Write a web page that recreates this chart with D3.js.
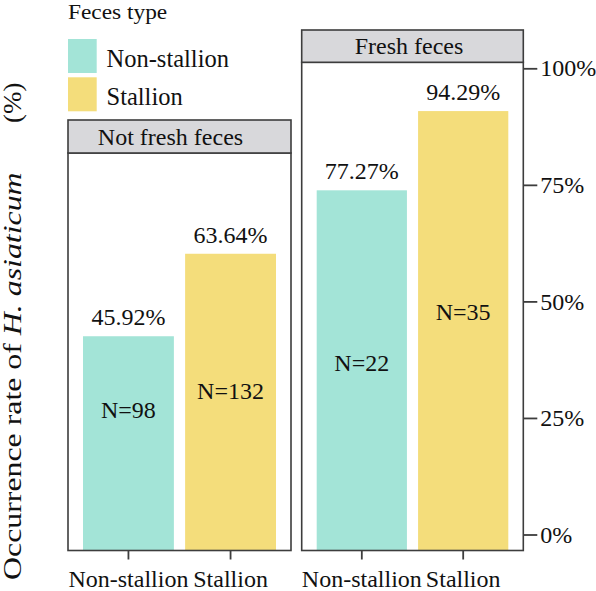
<!DOCTYPE html>
<html>
<head>
<meta charset="utf-8">
<script src="https://cdn.jsdelivr.net/npm/d3@7"></script>
<style>
  html, body { margin: 0; padding: 0; background: #fff; }
  svg text { font-family: 'Liberation Serif', 'Tinos', 'DejaVu Serif', serif !important; fill: #111; }
</style>
</head>
<body>
<svg id="chart" width="596" height="591"></svg>
<script>
// ---- data ----
const panels = ["Not fresh feces", "Fresh feces"];
const categories = ["Non-stallion", "Stallion"];
const notFreshValues = [45.92, 63.64];
const freshValues = [77.27, 94.29];
const notFreshN = [98, 132];
const freshN = [22, 35];
// where the N= labels sit (in % units)
const notFreshNLabelAt = [27, 31];
const freshNLabelAt = [37, 48];
const yTicks = [0, 25, 50, 75, 100];
const legendTitle = "Feces type";

const colors = { "Non-stallion": "#a3e4d7", "Stallion": "#f4dd7b" };
const FONT = "'Liberation Serif', 'Tinos', 'DejaVu Serif', serif";

const svg = d3.select("#chart");

// scales
const yBar = d3.scaleLinear().domain([0, 100]).range([550, 84.5]);
const yAxisScale = d3.scaleLinear().domain([0, 100]).range([534.5, 68.3]);

const panelDefs = [
  { name: panels[0], x0: 68, x1: 291, stripTop: 120, stripBot: 153, values: notFreshValues, ns: notFreshN, nAt: notFreshNLabelAt, textShift: -9 },
  { name: panels[1], x0: 301.7, x1: 523.3, stripTop: 30, stripBot: 62.3, values: freshValues, ns: freshN, nAt: freshNLabelAt, textShift: -3.5 }
];
const bottom = 550.5;

panelDefs.forEach(p => {
  const g = svg.append("g");
  const x = d3.scaleBand().domain(categories).range([p.x0 + 15, p.x1 - 15]).paddingInner(0.11).paddingOuter(0);
  const data = categories.map((c, i) => ({ cat: c, v: p.values[i], n: p.ns[i], at: p.nAt[i] }));

  g.selectAll("rect.bar").data(data).join("rect")
    .attr("class", "bar")
    .attr("x", d => x(d.cat))
    .attr("width", x.bandwidth())
    .attr("y", d => yBar(d.v))
    .attr("height", d => yBar(0) - yBar(d.v))
    .attr("fill", d => colors[d.cat]);

  g.selectAll("text.val").data(data).join("text")
    .attr("class", "val")
    .attr("x", d => x(d.cat) + x.bandwidth() / 2)
    .attr("y", d => yBar(d.v) - 11)
    .attr("text-anchor", "middle")
    .attr("font-size", 24)
    .text(d => d.v.toFixed(2) + "%");

  g.selectAll("text.n").data(data).join("text")
    .attr("class", "n")
    .attr("x", d => x(d.cat) + x.bandwidth() / 2)
    .attr("y", d => yAxisScale(d.at) + 9)
    .attr("text-anchor", "middle")
    .attr("font-size", 24)
    .text(d => "N=" + d.n);

  g.append("rect")
    .attr("x", p.x0).attr("y", p.stripBot)
    .attr("width", p.x1 - p.x0).attr("height", bottom - p.stripBot)
    .attr("fill", "none").attr("stroke", "#3d3d3d").attr("stroke-width", 1.6);

  g.append("rect")
    .attr("x", p.x0).attr("y", p.stripTop)
    .attr("width", p.x1 - p.x0).attr("height", p.stripBot - p.stripTop)
    .attr("fill", "#d8d8db").attr("stroke", "#3d3d3d").attr("stroke-width", 1.6);
  g.append("text")
    .attr("x", (p.x0 + p.x1) / 2 + p.textShift)
    .attr("y", p.stripBot - 8)
    .attr("text-anchor", "middle")
    .attr("font-size", 24)
    .text(p.name);

  const xAxis = d3.axisBottom(x).tickSize(9).tickPadding(10).tickSizeOuter(0);
  const ax = g.append("g").attr("transform", `translate(0,${bottom})`).call(xAxis);
  ax.attr("font-family", FONT);
  ax.select(".domain").remove();
  ax.selectAll(".tick line").attr("stroke", "#3d3d3d").attr("stroke-width", 1.8);
  ax.selectAll(".tick text").attr("font-size", 24).attr("fill", "#111");
});

const yAx = d3.axisRight(yAxisScale).tickValues(yTicks).tickFormat(d => d + "%").tickSize(14).tickPadding(3);
const yg = svg.append("g").attr("transform", "translate(523.3,0)").call(yAx);
yg.attr("font-family", FONT);
yg.select(".domain").remove();
yg.selectAll(".tick line").attr("stroke", "#3d3d3d").attr("stroke-width", 1.8);
yg.selectAll(".tick text").attr("font-size", 24).attr("fill", "#111");

// y axis title (stretched along its length like the reference)
const yt = svg.append("text")
  .attr("transform", "translate(20.5,580) rotate(-90) scale(1.3,1)")
  .attr("text-anchor", "start")
  .attr("font-size", 24.5);
yt.append("tspan").text("Occurrence rate of ");
yt.append("tspan").attr("font-style", "italic").text("H. asiaticum");
svg.append("text")
  .attr("transform", "translate(20.5,123) rotate(-90) scale(1.1,1)")
  .attr("text-anchor", "start")
  .attr("font-size", 24.5)
  .text("(%)");

const lg = svg.append("g");
lg.append("text").attr("x", 68).attr("y", 18.5).attr("font-size", 20.5)
  .attr("transform", "translate(68,0) scale(1.14,1) translate(-68,0)")
  .text(legendTitle);
const leg = lg.selectAll("g.item").data(categories).join("g").attr("class", "item");
leg.append("rect")
  .attr("x", 68).attr("y", (d, i) => 39 + i * 38.3)
  .attr("width", 28.7).attr("height", 34)
  .attr("fill", d => colors[d]);
leg.append("text")
  .attr("x", 106.5).attr("y", (d, i) => 66.5 + i * 38.3)
  .attr("font-size", 24.5)
  .text(d => d);
</script>
</body>
</html>
